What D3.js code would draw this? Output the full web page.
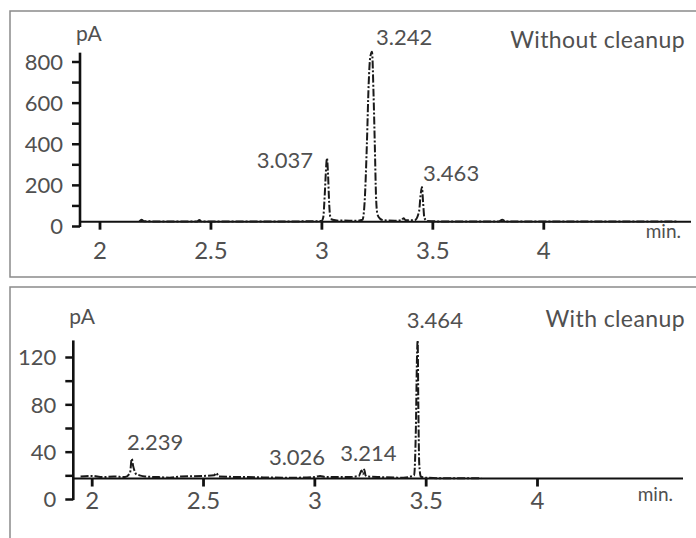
<!DOCTYPE html>
<html><head><meta charset="utf-8">
<script src="https://cdn.jsdelivr.net/npm/d3@7"></script>
<style>
body{margin:0;background:#fff;}
text{font-family:Lato,"Noto Sans",sans-serif;fill:#505050;}
</style></head>
<body>
<svg id="c" width="696" height="538"></svg>
<script>
// ---------- data ----------
const xTicks = [2, 2.5, 3, 3.5, 4];
const topYTicks = [0, 100, 200, 300, 400, 500, 600, 700, 800];
const botYTicks = [0, 20, 40, 60, 80, 100, 120];
const topTitle = "Without cleanup";
const botTitle = "With cleanup";
const yUnit = "pA";
const xUnit = "min.";

// chromatogram "Without cleanup": retention time (min), signal (pA)
const topTime = [2.18,2.19,2.20,2.30,2.44,2.45,2.46,2.60,2.80,2.95,3.000,3.008,3.015,3.020,3.025,3.030,3.035,3.040,3.050,3.080,3.100,3.150,3.185,3.195,3.205,3.213,3.220,3.228,3.235,3.241,3.246,3.252,3.262,3.280,3.330,3.360,3.370,3.380,3.420,3.440,3.447,3.453,3.458,3.464,3.475,3.550,3.800,3.815,3.830,3.950,4.200,4.600];
const topSig  = [22,30,23,22,22,29,22,22,22,23,24,40,150,260,330,250,110,45,30,26,27,25,30,120,400,690,820,848,640,380,150,60,38,28,26,27,38,28,28,70,150,190,120,40,25,22,22,30,22,22,22,22];

// chromatogram "With cleanup"
const botTime = [1.95,2.00,2.05,2.10,2.15,2.172,2.180,2.186,2.192,2.200,2.215,2.240,2.300,2.350,2.400,2.500,2.550,2.560,2.570,2.700,2.900,3.000,3.026,3.050,3.150,3.200,3.212,3.218,3.224,3.230,3.240,3.300,3.400,3.448,3.456,3.461,3.464,3.467,3.471,3.478,3.500,3.600,3.750];
const botSig  = [19,19.5,18.5,19,18.5,22,34,28,24,21,20,19,18.5,18,19,19.5,20,22,19,18.5,18,18.5,19.5,18.5,18.5,19.5,24,21,25,20,19,18.5,18,20,60,120,134,80,30,19,18,17.5,17.5];

const topPeaks = ["3.037", "3.242", "3.463"];
const topPeakTimes = [3.025, 3.228, 3.453];
const topPeakVals = [330, 848, 190];
const botPeaks = ["2.239", "3.026", "3.214", "3.464"];
const botPeakTimes = [2.186, 3.026, 3.224, 3.464];
const botPeakVals = [34, 19.5, 25, 134];

// ---------- drawing ----------
const svg = d3.select("#c");
const FONT = "Lato,'Noto Sans',sans-serif";

// panel frames
svg.append("rect").attr("x",10).attr("y",11).attr("width",700).attr("height",266)
  .attr("fill","none").attr("stroke","#8a8a8a").attr("stroke-width",1.5);
svg.append("rect").attr("x",10).attr("y",287).attr("width",700).attr("height",300)
  .attr("fill","none").attr("stroke","#8a8a8a").attr("stroke-width",1.5);

function panel(cfg){
  const g = svg.append("g");
  const x = d3.scaleLinear().domain([2,4]).range(cfg.xr);
  const y = d3.scaleLinear().domain([0,cfg.yMax]).range(cfg.yr);
  const baseY = y(cfg.base);

  // y axis
  const ya = d3.axisLeft(y).tickValues(cfg.yTicks).tickSize(8)
    .tickFormat(d => cfg.yLabels.includes(d) ? d : "");
  const yg = g.append("g").attr("transform",`translate(${cfg.yAxisX},0)`).call(ya);
  yg.select(".domain").remove();
  yg.selectAll(".tick line").attr("stroke","#111").attr("stroke-width",2.5);
  yg.selectAll(".tick text").attr("font-size",22).attr("x",-17).attr("dy","0.36em")
    .style("font-family",FONT).attr("fill","#505050");
  g.append("line").attr("x1",cfg.yAxisX).attr("x2",cfg.yAxisX)
    .attr("y1",y(0)+1).attr("y2",y(cfg.yTop)).attr("stroke","#111").attr("stroke-width",2.6);

  // x axis
  const xa = d3.axisBottom(x).tickValues(xTicks).tickSize(8).tickFormat(d3.format("~g"));
  const xg = g.append("g").attr("transform",`translate(0,${baseY})`).call(xa);
  xg.select(".domain").remove();
  xg.selectAll(".tick line").attr("stroke","#111").attr("stroke-width",2.8);
  xg.selectAll(".tick text").attr("font-size",24).attr("y",cfg.xLabY).attr("dy","0")
    .style("font-family",FONT).attr("fill","#505050");
  g.append("line").attr("x1",cfg.yAxisX).attr("x2",cfg.xEnd)
    .attr("y1",baseY).attr("y2",baseY).attr("stroke","#111").attr("stroke-width",2);

  // trace
  const pts = cfg.t.map((t,i)=>[t,cfg.s[i]]);
  const line = d3.line().x(d=>x(d[0])).y(d=>y(d[1])).curve(d3.curveMonotoneX);
  g.append("path").attr("d",line(pts)).attr("fill","none").attr("stroke","#1a1a1a")
    .attr("stroke-width",2).attr("stroke-dasharray","8,2,2,2").attr("stroke-linejoin","round");

  // unit labels and title
  g.append("text").attr("x",cfg.yAxisX-4).attr("y",cfg.pAy).attr("font-size",21).text(yUnit);
  g.append("text").attr("x",cfg.xEnd-10).attr("y",baseY+cfg.minDy).attr("text-anchor","end")
    .attr("font-size",19).text(xUnit);
  g.append("text").attr("x",685).attr("y",cfg.titleY).attr("text-anchor","end")
    .attr("font-size",23).attr("letter-spacing",0.4).text(cfg.title);

  // peak labels
  cfg.peaks.forEach((lab,i)=>{
    const o = cfg.off[i];
    g.append("text").attr("x",x(cfg.pt[i])+o[0]).attr("y",y(cfg.pv[i])+o[1])
      .attr("text-anchor",o[2]).attr("font-size",22).text(lab);
  });
}

panel({xr:[99.5,543.3], yr:[226,61.5], yMax:800, yTop:843, base:21, yAxisX:80, xEnd:691,
  yTicks:topYTicks, yLabels:[0,200,400,600,800], t:topTime, s:topSig, xLabY:37,
  pAy:41, minDy:16, titleY:48, title:topTitle,
  peaks:topPeaks, pt:topPeakTimes, pv:topPeakVals,
  off:[[-14,10,"end"],[4,-7,"start"],[1,-6,"start"]]});

panel({xr:[91.7,537], yr:[499,357], yMax:120, yTop:134, base:17.3, yAxisX:73.3, xEnd:683,
  yTicks:botYTicks, yLabels:[0,40,80,120], t:botTime, s:botSig, xLabY:30,
  pAy:324, minDy:22, titleY:327, title:botTitle,
  peaks:botPeaks, pt:botPeakTimes, pv:botPeakVals,
  off:[[-6,-9,"start"],[5,-11,"end"],[-24,-8,"start"],[-11,-12,"start"]]});
</script>
</body></html>
